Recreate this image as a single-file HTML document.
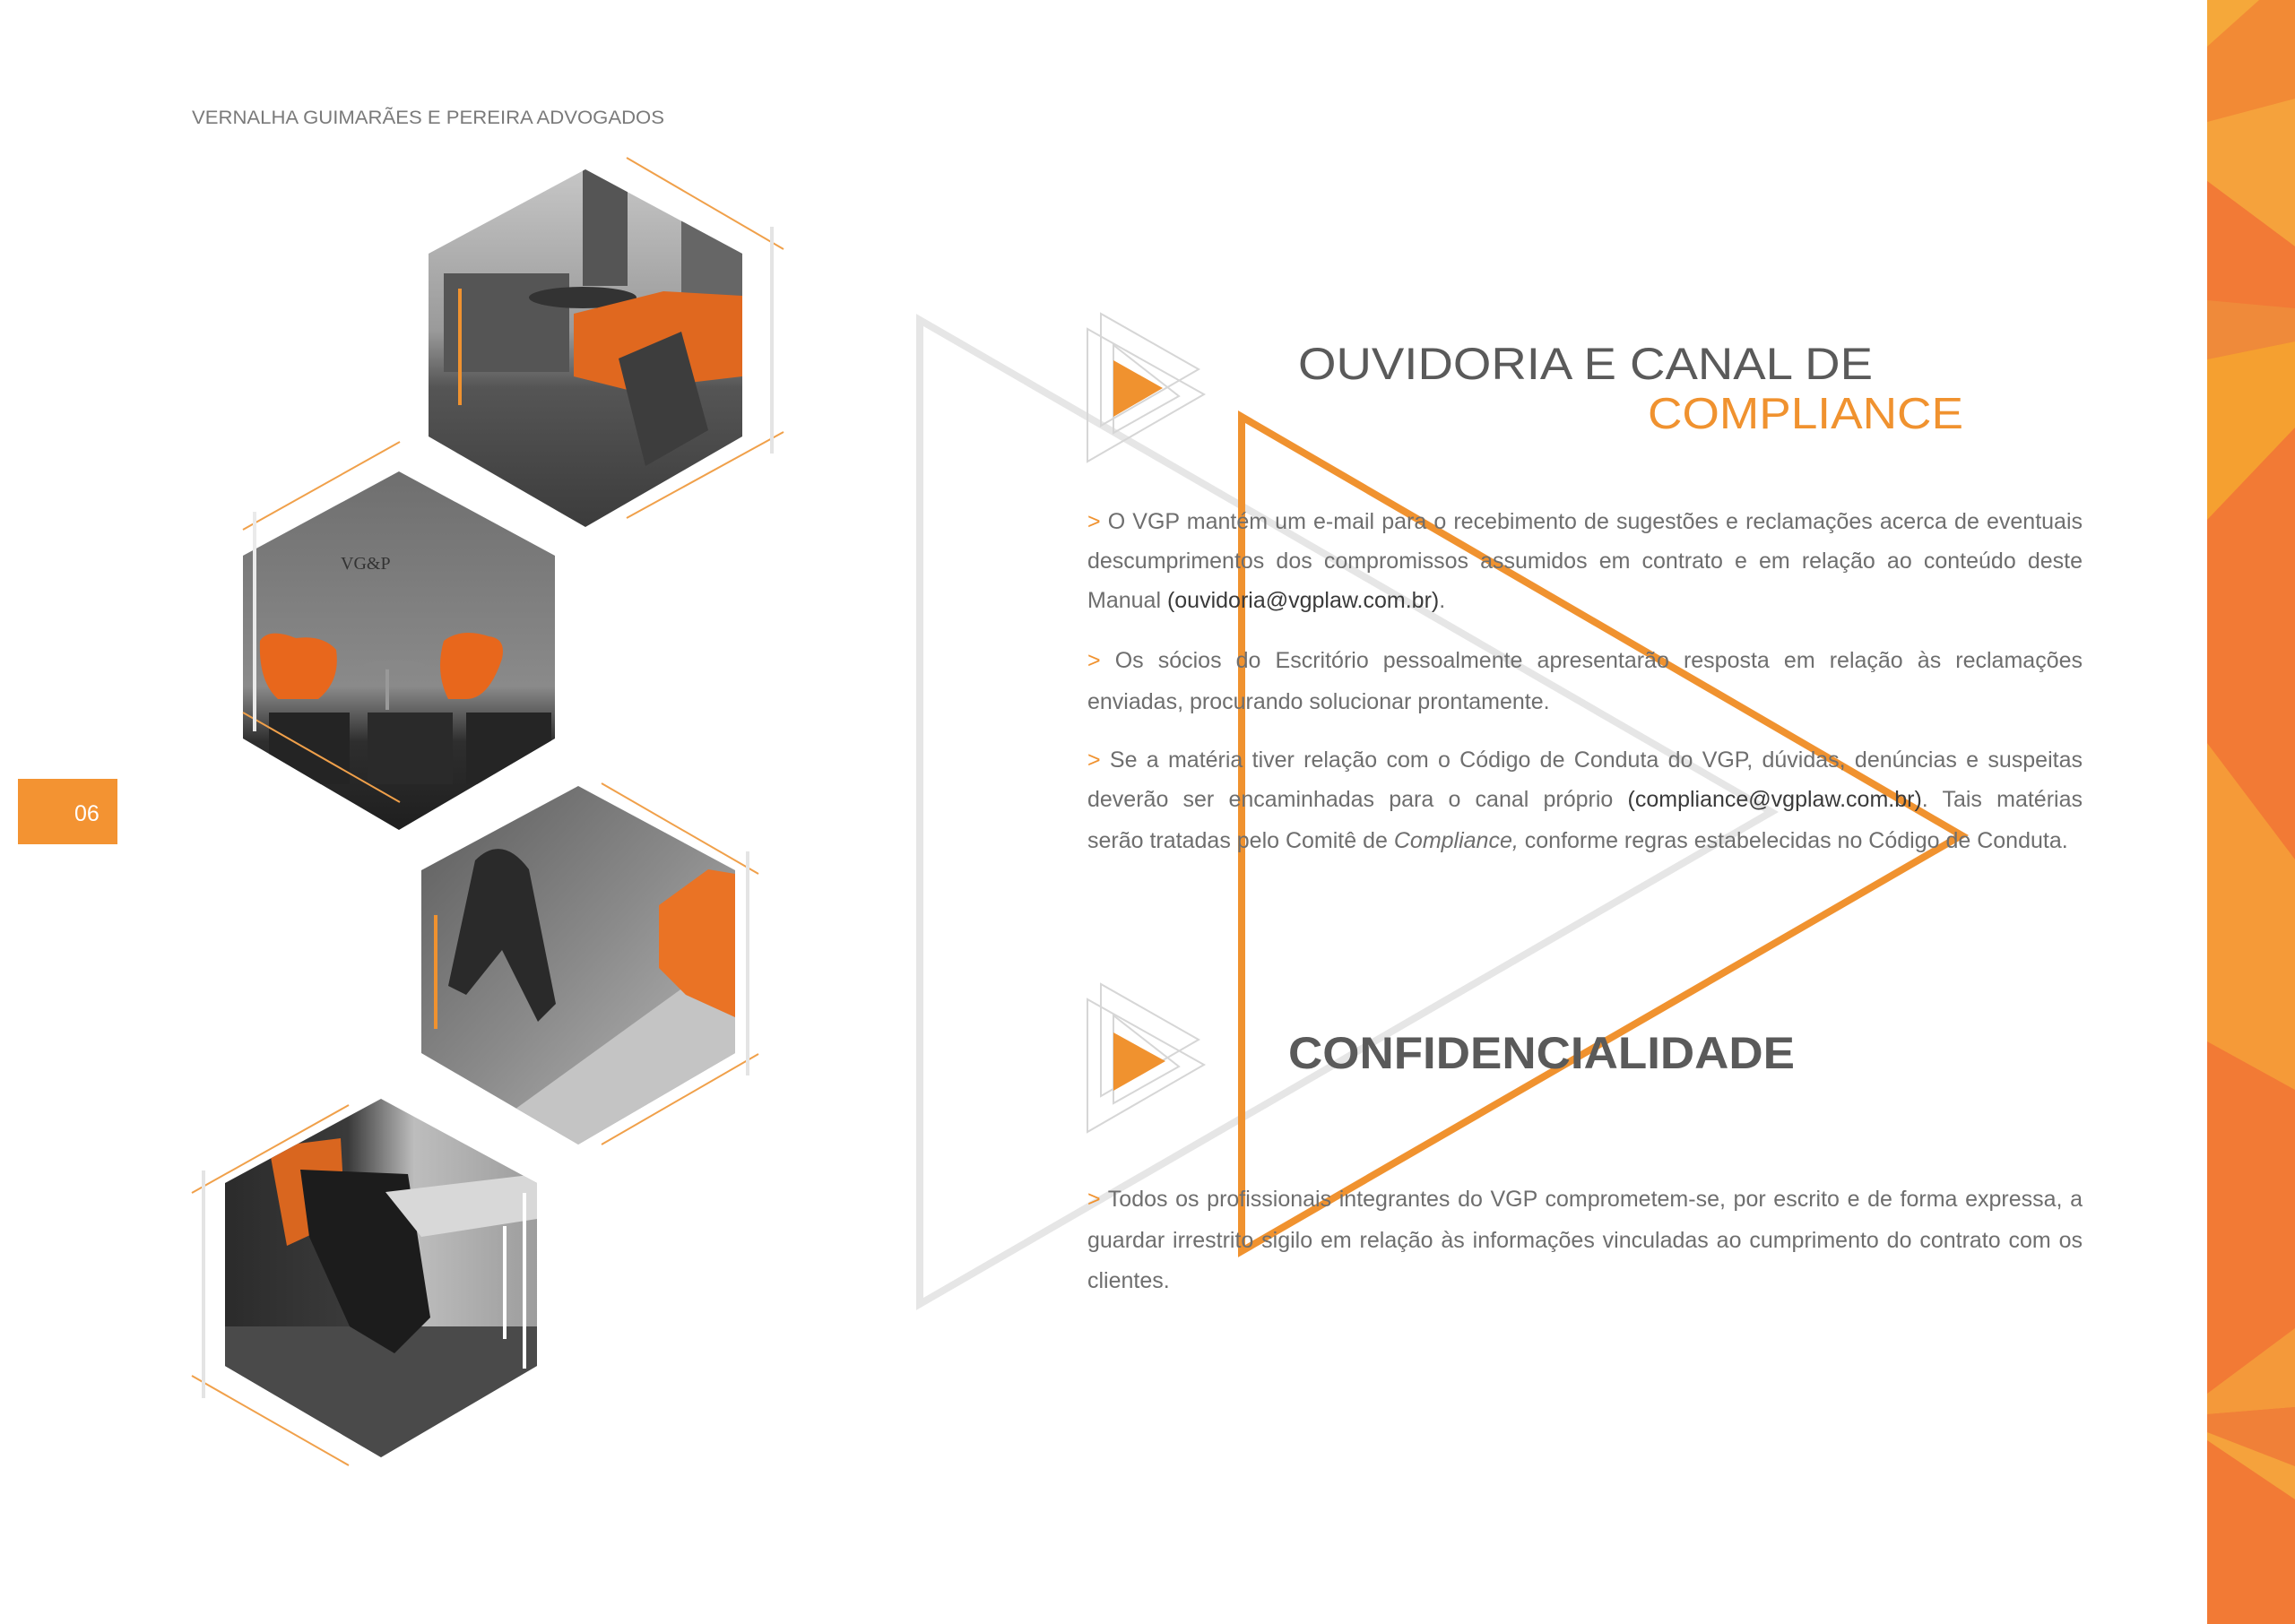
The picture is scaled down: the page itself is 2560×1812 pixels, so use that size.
<!DOCTYPE html>
<html><head><meta charset="utf-8"><style>
html,body{margin:0;padding:0;background:#fff}
#p{position:relative;width:2560px;height:1812px;overflow:hidden;background:#fff}
svg{position:absolute;left:0;top:0}
.l{position:absolute;left:1213px;width:1110px;font-family:"Liberation Sans",sans-serif;font-size:25px;line-height:45px;color:#6e6e6e;text-align:justify;text-align-last:justify;white-space:nowrap}
.l.e{text-align-last:left}
.o{color:#f0922f}
b{font-weight:normal;color:#3a3a3a}
</style></head><body><div id="p">
<svg width="2560" height="1812" viewBox="0 0 2560 1812">
<defs>
<clipPath id="h1"><polygon points="653,189 828,283 828,487 653,588 478,487 478,283"/></clipPath>
<clipPath id="h2"><polygon points="445,526 619,620 619,824 445,926 271,824 271,620"/></clipPath>
<clipPath id="h3"><polygon points="645,877 820,971 820,1175 645,1277 470,1175 470,971"/></clipPath>
<clipPath id="h4"><polygon points="425,1226 599,1320 599,1524 425,1626 251,1524 251,1320"/></clipPath>
<linearGradient id="g1" x1="0" y1="0" x2="0" y2="1"><stop offset="0" stop-color="#c8c8c8"/><stop offset="0.45" stop-color="#9a9a9a"/><stop offset="0.6" stop-color="#555"/><stop offset="1" stop-color="#3a3a3a"/></linearGradient>
<linearGradient id="g2" x1="0" y1="0" x2="0" y2="1"><stop offset="0" stop-color="#6e6e6e"/><stop offset="0.6" stop-color="#8a8a8a"/><stop offset="0.75" stop-color="#2e2e2e"/><stop offset="1" stop-color="#1e1e1e"/></linearGradient>
<linearGradient id="g3" x1="0" y1="0" x2="1" y2="1"><stop offset="0" stop-color="#5a5a5a"/><stop offset="0.5" stop-color="#8a8a8a"/><stop offset="1" stop-color="#c0c0c0"/></linearGradient>
<linearGradient id="g4" x1="0" y1="0" x2="1" y2="0"><stop offset="0" stop-color="#2a2a2a"/><stop offset="0.4" stop-color="#3a3a3a"/><stop offset="0.6" stop-color="#bdbdbd"/><stop offset="1" stop-color="#9a9a9a"/></linearGradient>
</defs>
<!-- right stripe -->
<g>
<rect x="2462" y="0" width="98" height="1812" fill="#f27a35"/>
<polygon points="2462,0 2560,0 2560,110 2462,136" fill="#f28a35"/>
<polygon points="2462,0 2520,0 2462,52" fill="#f5a83a"/>
<polygon points="2462,136 2560,110 2560,275 2462,202" fill="#f5a23c"/>
<polygon points="2462,202 2560,275 2560,344 2462,335" fill="#f27a36"/>
<polygon points="2462,335 2560,344 2560,381 2462,401" fill="#ef8a3a"/>
<polygon points="2462,401 2560,381 2560,477 2462,580" fill="#f5a030"/>
<polygon points="2462,829 2560,959 2560,1216 2462,1162" fill="#f59a38"/>
<polygon points="2462,1555 2560,1482 2560,1570 2462,1578" fill="#f4993a"/>
<polygon points="2462,1578 2560,1570 2560,1636 2462,1598" fill="#f08038"/>
<polygon points="2462,1598 2560,1636 2560,1673 2462,1607" fill="#f5a23c"/>
</g>
<!-- big triangles -->
<polygon points="1026,357 1026,1455 1976,906" fill="none" stroke="#e6e6e6" stroke-width="8"/>
<polygon points="1385,465 1385,1396 2188,932" fill="none" stroke="#f0922f" stroke-width="8"/>
<!-- icons -->
<g fill="none" stroke="#d6d6d6" stroke-width="2">
<polygon points="1228,350 1228,475 1337,412"/><polygon points="1213,367 1213,515 1343,440"/><polygon points="1242,385 1242,483 1315,442"/>
<polygon points="1228,1098 1228,1223 1337,1160"/><polygon points="1213,1115 1213,1263 1343,1188"/><polygon points="1242,1133 1242,1231 1315,1190"/>
</g>
<polygon points="1242,402 1242,465 1297,433" fill="#f0922f"/>
<polygon points="1242,1152 1242,1217 1300,1184" fill="#f0922f"/>
<!-- titles -->
<g font-family="Liberation Sans, sans-serif">
<text x="1448" y="423" font-size="50" fill="#5a5a5a" textLength="641" lengthAdjust="spacingAndGlyphs">OUVIDORIA E CANAL DE</text>
<text x="1838" y="478" font-size="49" fill="#f0922f" textLength="352" lengthAdjust="spacingAndGlyphs">COMPLIANCE</text>
<text x="1437" y="1192" font-size="50" font-weight="bold" fill="#5a5a5a" textLength="565" lengthAdjust="spacingAndGlyphs">CONFIDENCIALIDADE</text>
<text x="214" y="138" font-size="21" fill="#7a7a7a" textLength="527" lengthAdjust="spacingAndGlyphs">VERNALHA GUIMARÃES E PEREIRA ADVOGADOS</text>
</g>
<!-- page number -->
<rect x="20" y="869" width="111" height="73" fill="#f39332"/>
<text x="83" y="916" font-family="Liberation Sans, sans-serif" font-size="25" fill="#fff">06</text>
<!-- hex 1 -->
<g clip-path="url(#h1)">
<rect x="470" y="180" width="370" height="420" fill="url(#g1)"/>
<rect x="650" y="189" width="50" height="130" fill="#555"/>
<rect x="760" y="189" width="68" height="150" fill="#666"/>
<rect x="495" y="305" width="140" height="110" fill="#555"/>
<ellipse cx="650" cy="332" rx="60" ry="12" fill="#333"/>
<polygon points="640,350 740,325 828,330 828,420 700,435 640,420" fill="#e0681f"/>
<polygon points="690,400 760,370 790,480 720,520" fill="#3d3d3d"/>
</g>
<!-- hex 2 -->
<g clip-path="url(#h2)">
<rect x="260" y="520" width="370" height="410" fill="url(#g2)"/>
<text x="380" y="635" font-family="Liberation Serif,serif" font-size="20" fill="#333">VG&amp;P</text>
<path d="M290,715 Q300,700 330,712 Q360,708 375,725 Q380,760 355,780 L310,780 Q288,760 290,715Z" fill="#e8671c"/>
<path d="M495,715 Q515,700 545,710 Q565,712 560,735 Q545,780 520,780 L500,780 Q485,750 495,715Z" fill="#e8671c"/>
<rect x="430" y="742" width="4" height="50" fill="#999"/>
<ellipse cx="440" cy="742" rx="34" ry="5" fill="#888"/>
<rect x="300" y="795" width="90" height="80" fill="#242424"/><rect x="410" y="795" width="95" height="80" fill="#2a2a2a"/><rect x="520" y="795" width="95" height="80" fill="#252525"/>
</g>
<!-- hex 3 -->
<g clip-path="url(#h3)">
<rect x="460" y="870" width="370" height="410" fill="url(#g3)"/>
<polygon points="520,1277 820,1060 820,1277" fill="#c4c4c4"/>
<path d="M530,960 Q560,930 590,970 L620,1120 L600,1140 L560,1060 L520,1110 L500,1100 Z" fill="#2a2a2a"/>
<polygon points="735,1010 790,970 820,975 820,1135 765,1110 735,1080" fill="#ea7325"/>
</g>
<!-- hex 4 -->
<g clip-path="url(#h4)">
<rect x="240" y="1220" width="370" height="410" fill="url(#g4)"/>
<rect x="240" y="1480" width="370" height="150" fill="#4a4a4a"/>
<polygon points="300,1280 380,1270 385,1360 320,1390" fill="#d9661f"/>
<polygon points="335,1305 455,1310 480,1470 440,1510 390,1480 345,1380" fill="#1c1c1c"/>
<polygon points="430,1330 599,1310 599,1360 470,1380" fill="#d8d8d8"/>
</g>
<!-- decoration lines -->
<g stroke="#f0a04a" stroke-width="2" fill="none">
<line x1="699" y1="176" x2="874" y2="278"/><line x1="699" y1="578" x2="874" y2="482"/>
<line x1="271" y1="591" x2="446" y2="493"/><line x1="271" y1="795" x2="446" y2="895"/>
<line x1="671" y1="874" x2="846" y2="975"/><line x1="671" y1="1277" x2="846" y2="1176"/>
<line x1="214" y1="1331" x2="389" y2="1233"/><line x1="214" y1="1535" x2="389" y2="1635"/>
</g>
<g stroke-width="4">
<line x1="861" y1="253" x2="861" y2="506" stroke="#e4e4e4"/>
<line x1="513" y1="322" x2="513" y2="452" stroke="#f0922f"/>
<line x1="284" y1="571" x2="284" y2="816" stroke="#eaeaea"/>
<line x1="834" y1="950" x2="834" y2="1200" stroke="#e4e4e4"/>
<line x1="486" y1="1021" x2="486" y2="1148" stroke="#f0922f"/>
<line x1="227" y1="1306" x2="227" y2="1560" stroke="#e4e4e4"/>
<line x1="563" y1="1368" x2="563" y2="1494" stroke="#fff"/>
<line x1="585" y1="1331" x2="585" y2="1527" stroke="#fff"/>
</g>
</svg>
<div class="l" style="top:560px"><span class="o">&gt;</span> O VGP mantém um e-mail para o recebimento de sugestões e reclamações acerca de eventuais</div>
<div class="l" style="top:604px">descumprimentos dos compromissos assumidos em contrato e em relação ao conteúdo deste</div>
<div class="l e" style="top:648px">Manual <b>(ouvidoria@vgplaw.com.br)</b>.</div>
<div class="l" style="top:715px"><span class="o">&gt;</span> Os sócios do Escritório pessoalmente apresentarão resposta em relação às reclamações</div>
<div class="l e" style="top:761px">enviadas, procurando solucionar prontamente.</div>
<div class="l" style="top:826px"><span class="o">&gt;</span> Se a matéria tiver relação com o Código de Conduta do VGP, dúvidas, denúncias e suspeitas</div>
<div class="l" style="top:870px">deverão ser encaminhadas para o canal próprio <b>(compliance@vgplaw.com.br)</b>. Tais matérias</div>
<div class="l e" style="top:916px">serão tratadas pelo Comitê de <i>Compliance,</i> conforme regras estabelecidas no Código de Conduta.</div>
<div class="l" style="top:1316px"><span class="o">&gt;</span> Todos os profissionais integrantes do VGP comprometem-se, por escrito e de forma expressa, a</div>
<div class="l" style="top:1362px">guardar irrestrito sigilo em relação às informações vinculadas ao cumprimento do contrato com os</div>
<div class="l e" style="top:1407px">clientes.</div>
</div></body></html>
